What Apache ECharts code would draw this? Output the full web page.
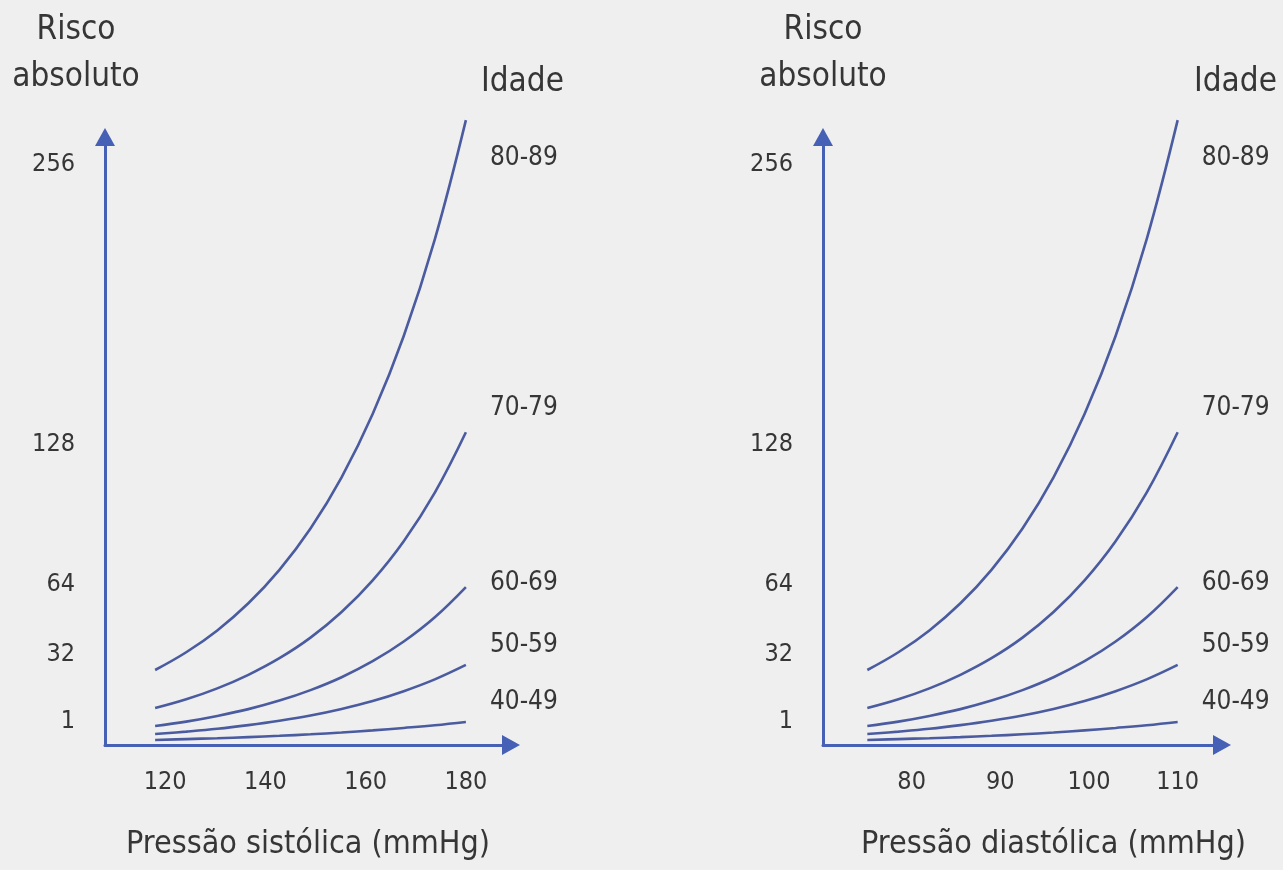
<!DOCTYPE html>
<html>
<head>
<meta charset="utf-8">
<title>Risco absoluto e pressão arterial</title>
<script src="https://cdn.jsdelivr.net/npm/echarts@6/dist/echarts.min.js"></script>
<style>
  html, body { margin: 0; padding: 0; background: #efefef; }
  #chart { width: 1283px; height: 870px; }
</style>
</head>
<body>
<div id="chart"></div>
<script>
// pressão (mmHg) nos pontos amostrados de cada curva
const systolic = [118, 124.2, 130.4, 136.6, 142.8, 149, 155.2, 161.4, 167.6, 173.8, 180]
const diastolic = [75, 78.5, 82, 85.5, 89, 92.5, 96, 99.5, 103, 106.5, 110]

// risco absoluto por faixa etária (as curvas são iguais nos dois painéis)
const ageGroups = ['80-89', '70-79', '60-69', '50-59', '40-49']
const risk80 = [34.3, 42.4, 52.4, 64.8, 80.1, 99.0, 122.4, 151.3, 187.0, 231.2, 285.7]
const risk70 = [16.9, 20.9, 25.9, 32.1, 39.7, 49.1, 60.8, 75.3, 93.2, 115.4, 143.0]
const risk60 = [8.7, 10.7, 13.3, 16.4, 20.3, 25.1, 31.0, 38.3, 47.3, 58.4, 72.2]
const risk50 = [5.0, 6.1, 7.4, 9.1, 11.1, 13.5, 16.5, 20.1, 24.6, 30.0, 36.6]
const risk40 = [2.3, 2.7, 3.1, 3.6, 4.2, 4.9, 5.7, 6.7, 7.8, 9.0, 10.5]
const riskByAge = [risk80, risk70, risk60, risk50, risk40]

// rótulos dos eixos
const riskTicks = [1, 32, 64, 128, 256]
const systolicTicks = [120, 140, 160, 180]
const diastolicTicks = [80, 90, 100, 110]

const FONT = "'DejaVu Sans Condensed', 'DejaVu Sans', sans-serif"
const TEXT = '#363636'
const AXIS = '#4560b4'
const CURVE = '#4a5ba0'

// deslocamento do rótulo de cada faixa etária em relação ao fim da curva
const labelOffsets = [[16, 38], [16, -24], [16, -4], [16, -20], [16, -20]]

const chart = echarts.init(document.getElementById('chart'))

const axisLine = {
  symbol: ['none', 'triangle'],
  symbolSize: [20, 18],
  lineStyle: { color: AXIS, width: 3 }
}

const makeXAxis = (idx, min, max, ticks, name, namePad) => ({
  gridIndex: idx,
  type: 'value',
  min: min,
  max: max,
  name: name,
  nameLocation: 'middle',
  nameGap: 84,
  nameTextStyle: { fontFamily: FONT, fontSize: 32, color: TEXT, padding: namePad },
  axisLine: axisLine,
  axisTick: { show: false },
  splitLine: { show: false },
  axisLabel: {
    customValues: ticks,
    margin: 25,
    fontFamily: FONT,
    fontSize: 25,
    color: TEXT
  }
})

const makeYAxis = (idx, namePad) => ({
  gridIndex: idx,
  type: 'value',
  min: 0,
  max: 278,
  name: 'Risco\nabsoluto',
  nameLocation: 'end',
  nameGap: 36,
  nameTextStyle: {
    fontFamily: FONT, fontSize: 33, color: TEXT,
    lineHeight: 47, align: 'center', padding: namePad
  },
  axisLine: axisLine,
  axisTick: { show: false },
  splitLine: { show: false },
  axisLabel: {
    customValues: riskTicks,
    margin: 30,
    fontFamily: FONT,
    fontSize: 25,
    color: TEXT,
    verticalAlign: 'bottom',
    lineHeight: 42
  }
})

const series = []
;[systolic, diastolic].forEach((xs, panel) => {
  ageGroups.forEach((age, i) => {
    series.push({
      name: age,
      type: 'line',
      xAxisIndex: panel,
      yAxisIndex: panel,
      smooth: 0.4,
      showSymbol: false,
      clip: false,
      lineStyle: { color: CURVE, width: 2.6 },
      endLabel: {
        show: true,
        formatter: '{a}',
        offset: labelOffsets[i],
        fontFamily: FONT,
        fontSize: 26,
        color: TEXT
      },
      data: xs.map((x, j) => [x, riskByAge[i][j]])
    })
  })
})

const option = {
  backgroundColor: '#efefef',
  animation: false,
  title: [
    { text: 'Idade', left: 481, top: 66, padding: 0,
      textStyle: { fontFamily: FONT, fontSize: 33, fontWeight: 'normal', color: TEXT } },
    { text: 'Idade', left: 1194, top: 66, padding: 0,
      textStyle: { fontFamily: FONT, fontSize: 33, fontWeight: 'normal', color: TEXT } }
  ],
  grid: [
    { left: 105, right: 772, top: 137, bottom: 125 },
    { left: 823, right: 61, top: 137, bottom: 125 }
  ],
  xAxis: [
    makeXAxis(0, 108, 189, systolicTicks, 'Pressão sistólica (mmHg)', [0, 0, 0, 0]),
    makeXAxis(1, 70, 115, diastolicTicks, 'Pressão diastólica (mmHg)', [0, 0, 0, 62])
  ],
  yAxis: [
    makeYAxis(0, [0, 58, 0, 0]),
    makeYAxis(1, [0, 0, 0, 0])
  ],
  series: series
}

chart.setOption(option)
</script>
</body>
</html>
